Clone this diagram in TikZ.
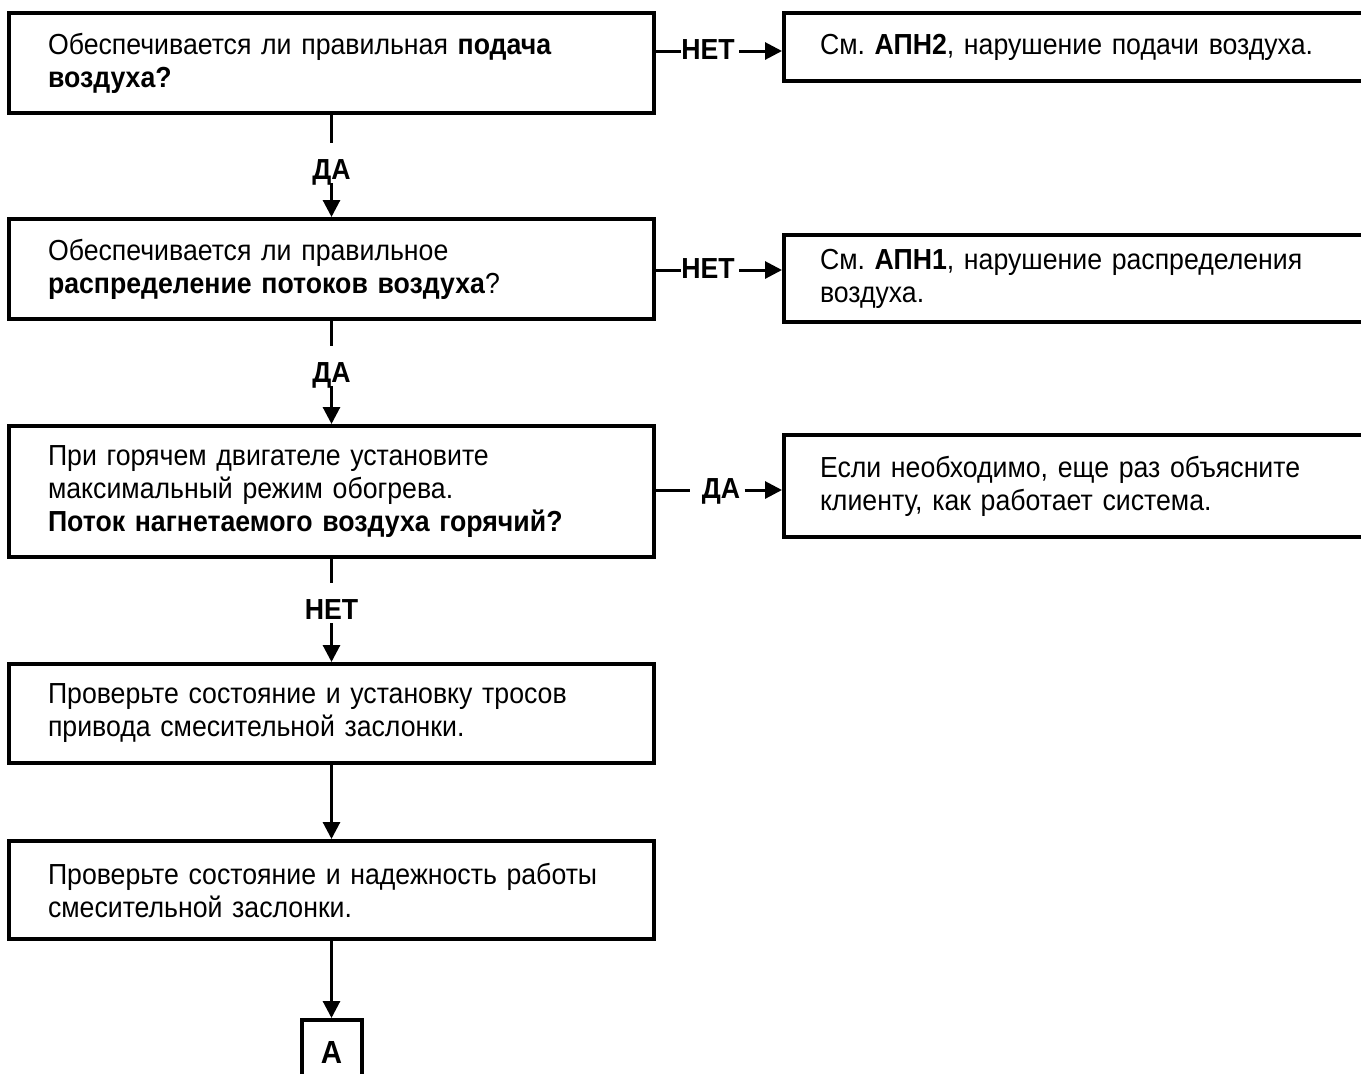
\documentclass[tikz,border=0pt]{standalone}
\usepackage{fontspec}
\setmainfont{Liberation Sans}[FakeStretch=0.92]
\usetikzlibrary{arrows.meta,positioning}
\frenchspacing
\tikzset{
  qbox/.style={draw, line width=2pt, align=left, text width=283.5pt, inner xsep=19.5pt, inner ysep=0pt, font=\fontsize{14.5}{16.5}\selectfont},
  rbox/.style={draw, line width=2pt, align=left, text width=273pt, inner xsep=18pt, inner ysep=0pt, anchor=west, font=\fontsize{14.5}{16.5}\selectfont},
  abox/.style={draw, line width=2pt, minimum width=30pt, minimum height=32pt, inner sep=0pt, font=\fontsize{16}{18}\selectfont\bfseries},
  yn/.style={inner sep=0pt, text height=10.4pt, text depth=1.5pt, font=\fontsize{14.5}{16.5}\selectfont\bfseries},
  flow/.style={line width=1.5pt},
  flowarr/.style={line width=1.5pt, -{Triangle[length=8.5pt,width=8.5pt]}},
}
\begin{document}
\begin{tikzpicture}[x=0.5pt,y=-0.5pt]
\useasboundingbox (0,0) rectangle (1361,1073);
% questions
\node[qbox, minimum height=50pt] (q1) at (331.5,63) {Обеспечивается ли правильная \textbf{подача}\\\textbf{воздуха?}};
\node[qbox, minimum height=50pt] (q2) at (331.5,269) {Обеспечивается ли правильное\\\textbf{распределение потоков воздуха}?};
\node[qbox, minimum height=65.5pt] (q3) at (331.5,491.5) {При горячем двигателе установите\\максимальный режим обогрева.\\\textbf{Поток нагнетаемого воздуха горячий?}};
\node[qbox, minimum height=49.5pt] (q4) at (331.5,713.5) {Проверьте состояние и установку тросов\\привода смесительной заслонки.};
\node[qbox, minimum height=49pt] (q5) at (331.5,890) {Проверьте состояние и надежность работы\\смесительной заслонки.};
\node[abox, below=38.5pt of q5] (a) {А};
% answers
\node[rbox, minimum height=34pt] (r1) at (782,47) {См. \textbf{АПН2}, нарушение подачи воздуха.};
\node[rbox, minimum height=43.5pt] (r2) at (782,278.5) {См. \textbf{АПН1}, нарушение распределения\\воздуха.};
\node[rbox, minimum height=51pt] (r3) at (782,486) {Если необходимо, еще раз объясните\\клиенту, как работает система.};
% yes / no labels
\node[yn] (d1) at (331.5,171) {ДА};
\node[yn] (d2) at (331.5,374) {ДА};
\node[yn] (n3) at (331.5,611) {НЕТ};
\node[yn] (n1) at (708,51) {НЕТ};
\node[yn] (n2) at (708,270) {НЕТ};
\node[yn] (d3) at (721,490) {ДА};
% down
\draw[flow, shorten >=8pt] (q1) -- (d1);
\draw[flowarr] (d1) -- (q2);
\draw[flow, shorten >=8pt] (q2) -- (d2);
\draw[flowarr] (d2) -- (q3);
\draw[flow, shorten >=8pt] (q3) -- (n3);
\draw[flowarr] (n3) -- (q4);
\draw[flowarr] (q4) -- (q5);
\draw[flowarr] (q5) -- (a);
% right
\draw[flow] (q1.east |- n1) -- (n1);
\draw[flowarr, shorten <=2pt] (n1) -- (n1 -| r1.west);
\draw[flow] (q2.east |- n2) -- (n2);
\draw[flowarr, shorten <=2pt] (n2) -- (n2 -| r2.west);
\draw[flow, shorten >=5.5pt] (q3.east |- d3) -- (d3);
\draw[flowarr, shorten <=2pt] (d3) -- (d3 -| r3.west);
\end{tikzpicture}
\end{document}
